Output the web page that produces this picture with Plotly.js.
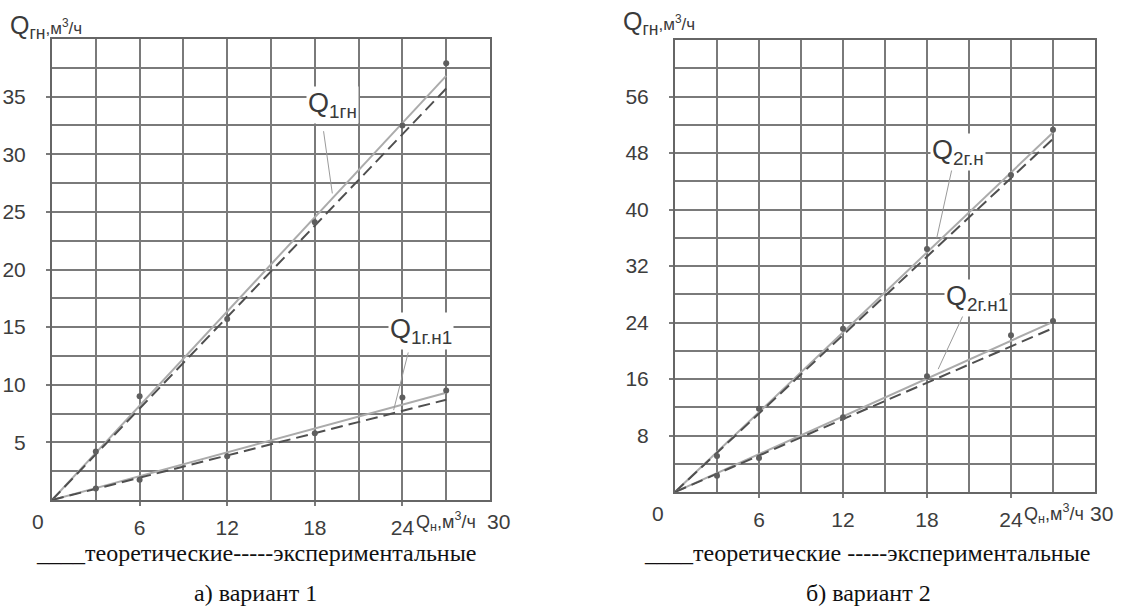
<!DOCTYPE html>
<html>
<head>
<meta charset="utf-8">
<script src="https://cdn.plot.ly/plotly-3.0.1.min.js"></script>
<style>
  html, body { margin: 0; padding: 0; background: #ffffff; }
  #chart { width: 1145px; height: 606px; }
</style>
</head>
<body>
<div id="chart"></div>
<script>
// Подача насоса Qн, м³/ч — точки замеров
const qnPoints = [3, 6, 12, 18, 24, 27];
// Концы расчётных / опытных прямых (из начала координат до Qн = 27)
const qnLine = [0, 27];

// Вариант 1
const q1gn_theor = [0, 36.8];
const q1gn_exp = [0, 35.7];
const q1gn_pts = [4.2, 9.0, 15.7, 24.1, 32.5, 37.9];
const q1gn1_theor = [0, 9.3];
const q1gn1_exp = [0, 8.7];
const q1gn1_pts = [1.0, 1.75, 3.8, 5.8, 8.9, 9.5];

// Вариант 2
const q2gn_theor = [0, 50.9];
const q2gn_exp = [0, 50.0];
const q2gn_pts = [5.1, 11.8, 23.1, 34.4, 44.9, 51.3];
const q2gn1_theor = [0, 24.1];
const q2gn1_exp = [0, 23.2];
const q2gn1_pts = [2.3, 4.8, 10.6, 16.4, 22.2, 24.2];

// Подписи делений
const xTicks = [6, 12, 18, 24];
const xMinor = [3, 9, 15, 21, 27];
const y1Ticks = [5, 10, 15, 20, 25, 30, 35];
const y1Minor = [2.5, 7.5, 12.5, 17.5, 22.5, 27.5, 32.5, 37.5];
const y2Ticks = [8, 16, 24, 32, 40, 48, 56];
const y2Minor = [4, 12, 20, 28, 36, 44, 52, 60];

const W = 1145, H = 606;
const GRID = '#7a7a7a';
const SANS = 'Liberation Sans';
const TICKFONT = { family: SANS, size: 21, color: '#3d3d3d' };
const THEOR = { color: '#ababab', width: 2 };
const EXPER = { color: '#4f4f4f', width: 2, dash: '12px,6px' };
const DOT = { color: '#5e5e5e', size: 6 };

function theorTrace(y, xa, ya) {
  return { x: qnLine, y: y, xaxis: xa, yaxis: ya, mode: 'lines', line: THEOR, hoverinfo: 'skip' };
}
function expTrace(y, xa, ya) {
  return { x: qnLine, y: y, xaxis: xa, yaxis: ya, mode: 'lines', line: EXPER, hoverinfo: 'skip' };
}
function ptsTrace(y, xa, ya) {
  return { x: qnPoints, y: y, xaxis: xa, yaxis: ya, mode: 'markers', marker: DOT };
}

const traces = [
  theorTrace(q1gn_theor, 'x', 'y'), expTrace(q1gn_exp, 'x', 'y'), ptsTrace(q1gn_pts, 'x', 'y'),
  theorTrace(q1gn1_theor, 'x', 'y'), expTrace(q1gn1_exp, 'x', 'y'), ptsTrace(q1gn1_pts, 'x', 'y'),
  theorTrace(q2gn_theor, 'x2', 'y2'), expTrace(q2gn_exp, 'x2', 'y2'), ptsTrace(q2gn_pts, 'x2', 'y2'),
  theorTrace(q2gn1_theor, 'x2', 'y2'), expTrace(q2gn1_exp, 'x2', 'y2'), ptsTrace(q2gn1_pts, 'x2', 'y2')
];

function xAxis(domain, anchor) {
  return {
    domain: domain, anchor: anchor, range: [0, 30],
    tickvals: xTicks, ticktext: xTicks.map(String),
    tickfont: TICKFONT, ticks: 'outside', ticklen: 4, tickcolor: GRID, tickwidth: 2,
    showgrid: true, gridcolor: GRID, gridwidth: 2,
    minor: { tickvals: xMinor, showgrid: true, gridcolor: GRID, gridwidth: 2, ticks: '' },
    showline: true, mirror: true, linecolor: '#666666', linewidth: 2,
    zeroline: false, fixedrange: true, automargin: false, ticklabelstandoff: 4
  };
}
function yAxis(domain, anchor, range, ticks, minor) {
  return {
    domain: domain, anchor: anchor, range: range,
    tickvals: ticks, ticktext: ticks.map(String),
    tickfont: TICKFONT, ticks: 'outside', ticklen: 4, tickcolor: GRID, tickwidth: 2,
    showgrid: true, gridcolor: GRID, gridwidth: 2,
    minor: { tickvals: minor, showgrid: true, gridcolor: GRID, gridwidth: 2, ticks: '' },
    showline: true, mirror: true, linecolor: '#666666', linewidth: 2,
    zeroline: false, fixedrange: true, automargin: false, ticklabelstandoff: 16
  };
}

const px = v => v / W;
const py = v => 1 - v / H;

const LBL = { family: SANS, size: 27, color: '#3a3a3a' };
const AXT = { family: SANS, size: 18, color: '#3a3a3a' };
const YT = { family: SANS, size: 25, color: '#3a3a3a' };
const CAP = { family: 'Liberation Serif', size: 24, color: '#111111' };

function paperText(text, x, y, font) {
  return { text: text, xref: 'paper', yref: 'paper', x: px(x), y: py(y),
           xanchor: 'center', yanchor: 'middle', showarrow: false, font: font };
}
function curveLabel(text, xa, ya, x, y) {
  return { text: text, xref: xa, yref: ya, x: x, y: y, xanchor: 'center', yanchor: 'middle',
           showarrow: false, font: LBL, bgcolor: '#ffffff', borderpad: 1 };
}
function leader(xa, ya, x0, y0, x1, y1) {
  return { type: 'line', xref: xa, yref: ya, x0: x0, y0: y0, x1: x1, y1: y1,
           line: { color: '#9a9a9a', width: 1 } };
}

const yTitle = 'Q<sub>гн</sub><span style="font-size:17px">,м<sup>3</sup>/ч</span>';
const xTitle = 'Q<sub>н</sub>,м<sup>3</sup>/ч';

const annotations = [
  { text: yTitle, xref: 'paper', yref: 'paper', x: px(8), y: py(27),
    xanchor: 'left', yanchor: 'middle', showarrow: false, font: YT },
  { text: yTitle, xref: 'paper', yref: 'paper', x: px(621), y: py(23),
    xanchor: 'left', yanchor: 'middle', showarrow: false, font: YT },
  paperText(xTitle, 446, 521, AXT),
  paperText(xTitle, 1054, 513, AXT),
  paperText('0', 38, 521, TICKFONT),
  paperText('30', 498, 521, TICKFONT),
  paperText('0', 658, 513, TICKFONT),
  paperText('30', 1101, 513, TICKFONT),
  curveLabel('Q<sub>1гн</sub>', 'x', 'y', 19.2, 34.3),
  curveLabel('Q<sub>1г.н1</sub>', 'x', 'y', 25.3, 14.7),
  curveLabel('Q<sub>2г.н</sub>', 'x2', 'y2', 20.2, 48.2),
  curveLabel('Q<sub>2г.н1</sub>', 'x2', 'y2', 21.6, 27.4),
  paperText('____теоретические-----экспериментальные', 256, 553, CAP),
  paperText('а) вариант 1', 255, 593, CAP),
  paperText('____теоретические -----экспериментальные', 867, 553, CAP),
  paperText('б) вариант 2', 868, 593, CAP)
];

const shapes = [
  leader('x', 'y', 18.6, 32.0, 19.2, 26.6),
  leader('x', 'y', 24.4, 12.8, 23.4, 7.8),
  leader('x2', 'y2', 19.8, 45.9, 18.7, 36.0),
  leader('x2', 'y2', 20.6, 25.1, 18.8, 17.4)
];

const layout = {
  width: W, height: H,
  margin: { l: 0, r: 0, t: 0, b: 0 },
  paper_bgcolor: '#ffffff', plot_bgcolor: '#ffffff',
  showlegend: false,
  xaxis: xAxis([px(52), px(490)], 'y'),
  yaxis: yAxis([1 - 500 / H, 1 - 39 / H], 'x', [0, 40], y1Ticks, y1Minor),
  xaxis2: xAxis([px(675), px(1095)], 'y2'),
  yaxis2: yAxis([1 - 492 / H, 1 - 40 / H], 'x2', [0, 64], y2Ticks, y2Minor),
  annotations: annotations,
  shapes: shapes
};

Plotly.newPlot('chart', traces, layout, { displayModeBar: false, staticPlot: true });
</script>
</body>
</html>
